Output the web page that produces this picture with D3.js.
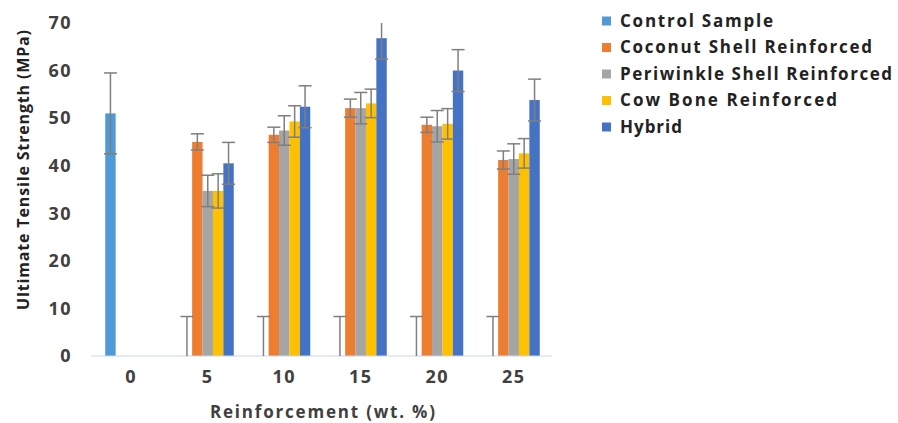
<!DOCTYPE html>
<html>
<head>
<meta charset="utf-8">
<script src="https://cdn.jsdelivr.net/npm/d3@7"></script>
<style>
  body { margin: 0; background: #fff; }
  svg { display: block; font-family: "Open Sans", Lato, sans-serif; }
</style>
</head>
<body>
<svg width="898" height="423"></svg>
<script>
(function () {
    'use strict';

    const categories = ['0', '5', '10', '15', '20', '25'];
    const series = ['Control Sample', 'Coconut Shell Reinforced', 'Periwinkle Shell Reinforced', 'Cow Bone Reinforced', 'Hybrid'];
    const colors = ['#4f9ad6', '#ed7d31', '#a5a5a5', '#ffc000', '#4472c4'];

    // mean strength per series, one value per category
    const control = [51.0, 0, 0, 0, 0, 0];
    const coconut = [0, 45.0, 46.5, 52.1, 48.6, 41.2];
    const periwinkle = [0, 34.7, 47.4, 52.1, 48.3, 41.4];
    const cowBone = [0, 34.7, 49.3, 53.1, 48.8, 42.6];
    const hybrid = [0, 40.5, 52.4, 66.8, 60.0, 53.8];

    // error (+/-) per series
    const controlErr = [8.5, 8.3, 8.3, 8.3, 8.3, 8.3];
    const coconutErr = [0, 1.7, 1.6, 1.9, 1.6, 1.9];
    const periwinkleErr = [0, 3.3, 3.1, 3.3, 3.3, 3.2];
    const cowBoneErr = [0, 3.6, 3.3, 3.0, 3.2, 3.1];
    const hybridErr = [0, 4.4, 4.4, 4.4, 4.4, 4.4];

    const yTicks = [0, 10, 20, 30, 40, 50, 60, 70];

    const values = [control, coconut, periwinkle, cowBone, hybrid];
    const errors = [controlErr, coconutErr, periwinkleErr, cowBoneErr, hybridErr];

    const rows = [];
    categories.forEach((c, i) => {
        series.forEach((s, j) => {
            rows.push({ cat: c, ser: s, idx: j, v: values[j][i], e: errors[j][i] });
        });
    });

    const svg = d3.select('svg');

    const x = d3.scaleBand()
        .domain(categories)
        .range([93, 552])
        .paddingInner(0.32)
        .paddingOuter(0.16);

    const xs = d3.scaleBand()
        .domain(series)
        .range([0, x.bandwidth()]);

    const y = d3.scaleLinear()
        .domain([0, 70])
        .range([356, 23]);

    // fit a text element to a measured width from the reference
    const fit = (sel, w) => sel.attr('textLength', w).attr('lengthAdjust', 'spacing');

    // y tick labels
    svg.append('g').selectAll('text')
        .data(yTicks)
        .join('text')
        .attr('x', 72)
        .attr('y', d => y(d))
        .attr('dy', '0.35em')
        .attr('text-anchor', 'end')
        .attr('font-size', 18)
        .attr('font-weight', 'bold')
        .attr('letter-spacing', 1.5)
        .attr('fill', '#404040')
        .text(d => d);

    // bars
    const barG = svg.append('g');
    barG.selectAll('rect')
        .data(rows.filter(d => d.v > 0))
        .join('rect')
        .attr('x', d => x(d.cat) + xs(d.ser))
        .attr('y', d => y(d.v))
        .attr('width', xs.bandwidth())
        .attr('height', d => y(0) - y(d.v))
        .attr('fill', d => colors[d.idx]);

    // baseline
    svg.append('line')
        .attr('x1', 91).attr('x2', 552)
        .attr('y1', y(0)).attr('y2', y(0))
        .attr('stroke', '#c9d7ea')
        .attr('stroke-width', 1);

    // error bars
    const capW = 13;
    const errG = svg.append('g')
        .attr('stroke', '#7f7f7f')
        .attr('stroke-width', 1.5)
        .attr('fill', 'none');
    const errRows = rows.filter(d => d.e > 0);
    const lo = d => Math.max(0, d.v - d.e);
    const hi = d => Math.min(70, d.v + d.e);
    const cx = d => x(d.cat) + xs(d.ser) + xs.bandwidth() / 2;
    errG.selectAll('line.stem')
        .data(errRows)
        .join('line')
        .attr('class', 'stem')
        .attr('x1', cx)
        .attr('x2', cx)
        .attr('y1', d => y(lo(d)))
        .attr('y2', d => y(hi(d)));
    errG.selectAll('line.capTop')
        .data(errRows.filter(d => d.v + d.e <= 70))
        .join('line')
        .attr('class', 'capTop')
        .attr('x1', d => cx(d) - capW / 2)
        .attr('x2', d => cx(d) + capW / 2)
        .attr('y1', d => y(hi(d)))
        .attr('y2', d => y(hi(d)));
    errG.selectAll('line.capLow')
        .data(errRows.filter(d => d.v - d.e > 0))
        .join('line')
        .attr('class', 'capLow')
        .attr('x1', d => cx(d) - capW / 2)
        .attr('x2', d => cx(d) + capW / 2)
        .attr('y1', d => y(lo(d)))
        .attr('y2', d => y(lo(d)));

    // x tick labels
    svg.append('g').selectAll('text')
        .data(categories)
        .join('text')
        .attr('x', d => x(d) + x.bandwidth() / 2)
        .attr('y', 377)
        .attr('dy', '0.35em')
        .attr('text-anchor', 'middle')
        .attr('font-size', 18)
        .attr('font-weight', 'bold')
        .attr('letter-spacing', 1.5)
        .attr('fill', '#404040')
        .text(d => d);

    // axis titles
    svg.append('text')
        .attr('x', 210)
        .attr('y', 412)
        .attr('dy', '0.35em')
        .attr('font-size', 17)
        .attr('font-weight', 'bold')
        .attr('fill', '#404040')
        .call(fit, 225)
        .text('Reinforcement (wt. %)');

    svg.append('text')
        .attr('transform', 'translate(23,310) rotate(-90)')
        .attr('dy', '0.35em')
        .attr('font-size', 16)
        .attr('font-weight', 'bold')
        .attr('fill', '#222')
        .call(fit, 280)
        .text('Ultimate Tensile Strength (MPa)');

    // legend
    const legendW = [153, 252, 272, 217, 62];
    const leg = svg.append('g')
        .selectAll('g')
        .data(series)
        .join('g')
        .attr('transform', (d, i) => `translate(602,${21 + i * 26.5})`);
    leg.append('rect')
        .attr('x', 0).attr('y', -4.5)
        .attr('width', 9).attr('height', 9)
        .attr('fill', (d, i) => colors[i]);
    leg.append('text')
        .attr('x', 18)
        .attr('dy', '0.35em')
        .attr('font-size', 17)
        .attr('font-weight', 'bold')
        .attr('fill', '#222')
        .each(function (d, i) { d3.select(this).call(fit, legendW[i]); })
        .text(d => d);
})();
</script>
</body>
</html>
